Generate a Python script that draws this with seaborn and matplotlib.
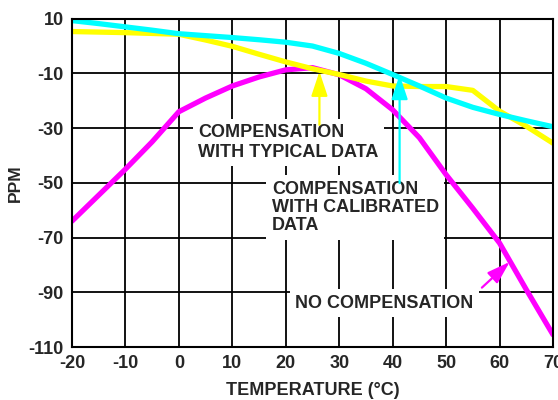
import matplotlib
matplotlib.use("Agg")
import matplotlib.pyplot as plt
import numpy as np
import pandas as pd
import seaborn as sns

# ---- data ----
temperature = [-20, -15, -10, -5, 0, 5, 10, 15, 20, 25, 30, 35, 40, 45, 50, 55, 60, 65, 70]
no_compensation = [-64, -54.5, -45, -35, -24, -19, -14.6, -11.3, -8.7, -7.9, -10.5, -15.6,
                   -23.3, -33.5, -47.0, -59.3, -72, -89, -105.5]
typical_data = [5.3, 5.1, 4.9, 4.6, 4.3, 2.2, -0.1, -3.0, -5.8, -8.3, -10.4, -12.8,
                -14.6, -14.8, -14.8, -16.2, -23.8, -29.3, -35.5]
calibrated_data = [9.3, 8.2, 7.0, 5.8, 4.5, 3.8, 3.1, 2.3, 1.4, 0.0, -2.7, -6.3,
                   -10.4, -14.6, -19.0, -22.4, -25.0, -27.3, -29.5]
x_ticks = [-20, -10, 0, 10, 20, 30, 40, 50, 60, 70]
y_ticks = [10, -10, -30, -50, -70, -90, -110]
series_names = ["NO COMPENSATION", "COMPENSATION\nWITH TYPICAL DATA",
                "COMPENSATION\nWITH CALIBRATED\nDATA"]
series_colors = ["#FF00FF", "#FFFF00", "#00FFFF"]

df = pd.DataFrame({
    "temp": temperature * 3,
    "ppm": no_compensation + typical_data + calibrated_data,
    "series": [series_names[0]] * len(temperature) + [series_names[1]] * len(temperature)
              + [series_names[2]] * len(temperature),
})

sns.set_style("white")
plt.rcParams["font.family"] = ["Liberation Sans", "DejaVu Sans"]
plt.rcParams["font.weight"] = "bold"
plt.rcParams["axes.unicode_minus"] = False

fig = plt.figure(figsize=(5.58, 4.0), dpi=100)
ax = fig.add_axes([0.129, 0.1325, 0.862, 0.8208])

sns.lineplot(data=df, x="temp", y="ppm", hue="series", hue_order=series_names,
             palette=series_colors, linewidth=3.8, legend=False, ax=ax, zorder=2)

ax.set_xlim(-20, 70)
ax.set_ylim(-110, 10)
ax.set_xticks(x_ticks)
ax.set_yticks(y_ticks)
ax.set_axisbelow(True)
ax.grid(True, color="black", linewidth=1.3)
for s in ax.spines.values():
    s.set_visible(True)
    s.set_color("black")
    s.set_linewidth(1.5)
ax.tick_params(length=0, pad=6, labelsize=13)
for lab in ax.get_xticklabels() + ax.get_yticklabels():
    lab.set_fontweight("bold")
ax.set_xlabel("TEMPERATURE (°C)", fontsize=13, fontweight="bold", labelpad=7)
ax.set_ylabel("PPM", fontsize=12.5, fontweight="bold", labelpad=4)

box = dict(boxstyle="square,pad=0.3", facecolor="white", edgecolor="none")
ax.text(3.65, -40.4, series_names[1], fontsize=13, fontweight="bold", ha="left",
        va="baseline", linespacing=1.17, bbox=box, zorder=1.5)
ax.text(17.4, -67.4, series_names[2], fontsize=13, fontweight="bold", ha="left",
        va="baseline", linespacing=1.1, bbox=box, zorder=1.5)
ax.text(21.8, -95.6, series_names[0], fontsize=13, fontweight="bold", ha="left",
        va="baseline", bbox=box, zorder=1.5)

def arrow(tip, tail, color, hl=15, hw=5):
    ax.annotate("", xy=tip, xytext=tail, zorder=4,
                arrowprops=dict(arrowstyle=f"-|>,head_length={hl},head_width={hw}",
                                color=color, lw=1.6, mutation_scale=1,
                                shrinkA=0, shrinkB=0))

arrow((26.3, -9.3), (26.3, -28.8), "#FFFF00")
arrow((41.3, -10.5), (41.3, -50.1), "#00FFFF")
arrow((61.9, -78.9), (56.7, -88.3), "#FF00FF", hl=14, hw=4.5)

fig.savefig("out.png", dpi=100)
